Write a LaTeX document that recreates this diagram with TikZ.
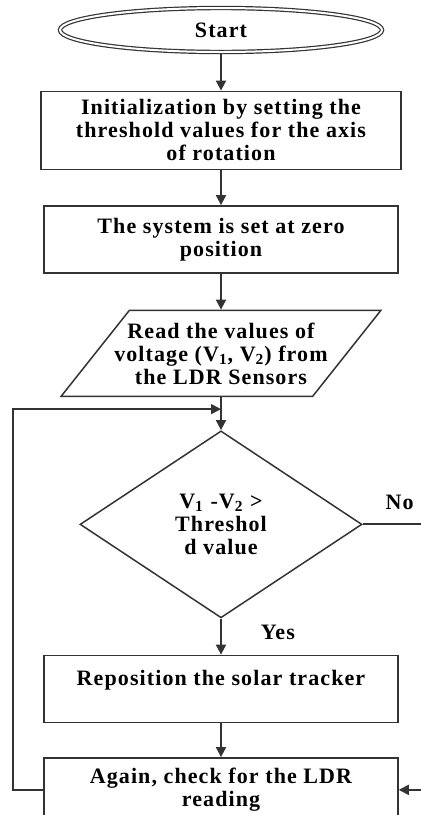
\documentclass[tikz,border=0pt]{standalone}
\usepackage{fontspec}
\setmainfont{Liberation Serif}[LetterSpace=5]
\usetikzlibrary{arrows.meta, positioning, shapes.geometric}
\tikzstyle{flowchart}=[>={Triangle[width=5pt,length=5pt]}, line width=0.9pt, draw=black!80, font=\bfseries\fontsize{11}{11.5}\selectfont, align=center]
\tikzstyle{process}=[draw=black!80, line width=0.75pt, rectangle, minimum width=177pt, minimum height=33.5pt]
\tikzstyle{io}=[draw=black!80, line width=0.75pt, trapezium, trapezium left angle=52, trapezium right angle=128, trapezium stretches=true, inner xsep=-14pt, minimum width=160pt, minimum height=43pt]
\tikzstyle{decision}=[draw=black!80, line width=0.75pt, diamond, aspect=1.5, inner sep=0pt, minimum width=141pt, minimum height=93.5pt]
\tikzstyle{terminal}=[draw=black!80, line width=0.6pt, ellipse, double, double distance=1pt, minimum width=161pt, minimum height=22pt]
\tikzstyle{answer}=[inner sep=0pt]

\begin{document}
\begin{tikzpicture}[flowchart, x=1pt, y=1pt]
  \useasboundingbox (0,0) rectangle (210,-407.5);
  \node[terminal] (start) at (110.5,-15) {Start};
  \node[process, minimum width=180pt, minimum height=39pt] (init) [below=19pt of start] {Initialization by setting the\\threshold values for the axis\\of rotation};
  \node[process] (zero) [below=17.5pt of init] {The system is set at zero\\position};
  \node[io] (read) [below=18pt of zero] {Read the values of\\voltage (V\textsubscript{1}, V\textsubscript{2}) from\\the LDR Sensors};
  \node[decision] (cmp) [below=16.5pt of read] {V\textsubscript{1} -V\textsubscript{2} >\\Threshol\\d value};
  \node[process] (repos) [below=18pt of cmp] {Reposition the solar tracker\\\mbox{}};
  \node[process, minimum height=32pt] (again) [below=17pt of repos] {Again, check for the LDR\\reading};
  \coordinate[above=10.5pt of cmp.north] (join);
  \node[answer] (no) [above right=7pt and 11pt of cmp.east] {No};
  \node[answer] (yes) [below right=3pt and 19.5pt of cmp.south] {Yes};
  \path[->] (start) edge (init);
  \path[->] (init) edge (zero);
  \path[->] (zero) edge (read);
  \path[->] (read) edge (cmp);
  \path[->] (cmp) edge (repos);
  \path[->] (repos) edge (again);
  \draw[->] (again.west) -- ++(-15,0) |- (join);
  \draw[->] (cmp.east) -- ++(31,0) |- (again.east);
\end{tikzpicture}
\end{document}
